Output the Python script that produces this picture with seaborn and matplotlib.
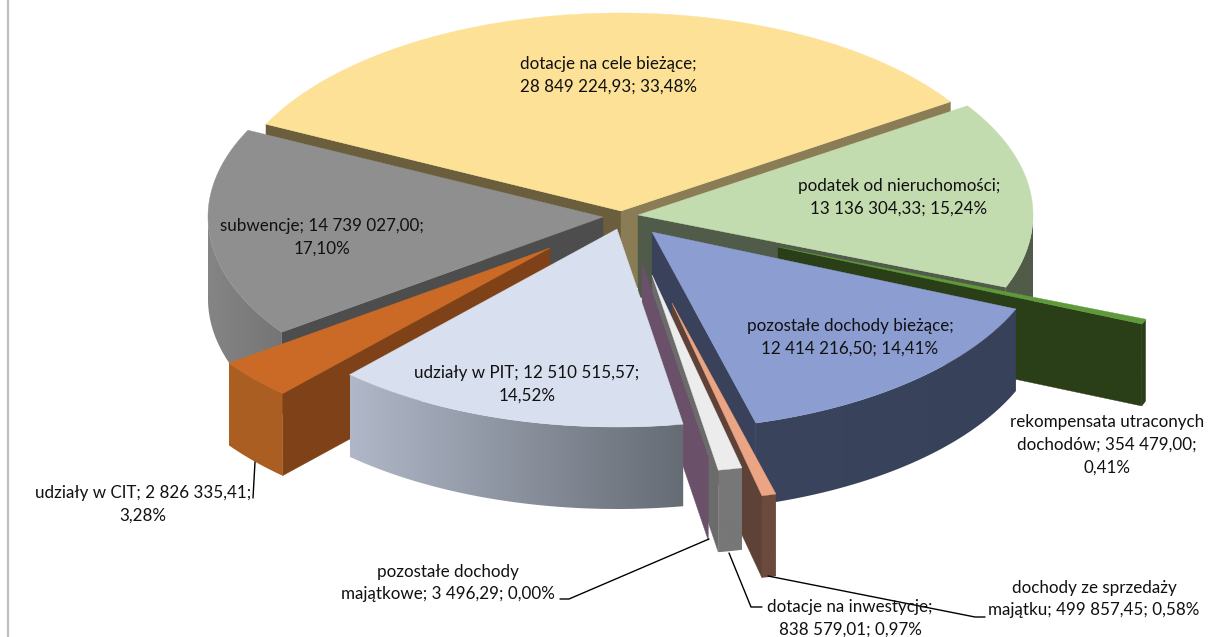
import numpy as np
import matplotlib
matplotlib.use('Agg')
import matplotlib.pyplot as plt
import matplotlib.colors as mcolors
from matplotlib.patches import Polygon
import seaborn as sns

# Data (clockwise, first slice starts behind the top left)
categories = ['dotacje na cele bieżące', 'podatek od nieruchomości', 'rekompensata utraconych dochodów',
              'pozostałe dochody bieżące', 'dochody ze sprzedaży majątku', 'dotacje na inwestycje',
              'pozostałe dochody majątkowe', 'udziały w PIT', 'udziały w CIT', 'subwencje']
values = [28849224.93, 13136304.33, 354479.00, 12414216.50, 499857.45,
          838579.01, 3496.29, 12510515.57, 2826335.41, 14739027.00]
labels = ['dotacje na cele bieżące;\n28 849 224,93; 33,48%',
          'podatek od nieruchomości;\n13 136 304,33; 15,24%',
          'rekompensata utraconych\ndochodów; 354 479,00;\n0,41%',
          'pozostałe dochody bieżące;\n12 414 216,50; 14,41%',
          'dochody ze sprzedaży\nmajątku; 499 857,45; 0,58%',
          'dotacje na inwestycje;\n838 579,01; 0,97%',
          'pozostałe dochody\nmajątkowe; 3 496,29; 0,00%',
          'udziały w PIT; 12 510 515,57;\n14,52%',
          'udziały w CIT; 2 826 335,41;\n3,28%',
          'subwencje; 14 739 027,00;\n17,10%']

# Colours per slice
top_colors = ['#FCE196', '#C3DCAF', '#5E9A3A', '#8C9ED1', '#EBA584',
              '#ECECEC', '#6A5068', '#D8DFEE', '#CB6A26', '#8F8F8F']
face_start = ['#6A5E3C', '#515B49', '#2A3E18', '#39425A', '#5F4237',
              '#6B6B6B', '#6A5068', '#5F6570', '#7F4218', '#4D4D4D']
face_end = ['#8A7C54', '#515B49', '#2A3E18', '#39425A', '#5F4237',
            '#6B6B6B', '#6A5068', '#5F6570', '#7F4218', '#4D4D4D']
wall_left = ['#7A7050', '#515B49', '#2A3E18', '#3A445C', '#6C4A3D',
             '#777777', '#6A5068', '#B0B7C8', '#AB5E22', '#858585']
wall_right = ['#7A7050', '#515B49', '#2A3E18', '#38415A', '#6C4A3D',
              '#777777', '#6A5068', '#666C74', '#AB5E22', '#757575']

# Layout of the exploded pie, in pixels
centres = [(621, 211), (638, 215), (778, 247), (652, 232), (672, 303),
           (652, 275), (642, 263), (617, 229), (550, 248), (603, 217)]
label_pos = [(608, 75), (899, 197), (1107, 445), (850, 337), (1094, 599),
             (850, 618), (448, 583), (527, 384), (143, 504), (322, 237)]
draw_order = [0, 9, 1, 2, 3, 8, 4, 5, 6, 7]
RX, RY, DEPTH = 395, 198, 82
FIRST_ANGLE = -64

sns.set_theme(style='white')
plt.rcParams['font.family'] = ['Lato', 'DejaVu Sans']

fig, ax = plt.subplots(figsize=(12.08, 6.37), dpi=100)
fig.subplots_adjust(0, 0, 1, 1)
ax.axis('off')


def direction(a):
    r = np.radians(a)
    return np.array([RX * np.sin(r), -RY * np.cos(r)])


def face_visible(a, mid):
    d = direction(a)
    n = np.array([-d[1], d[0]])
    if n[1] < 0:
        n = -n
    return direction(mid) @ n < 0


shares = np.array(values) / np.sum(values) * 360
ends = FIRST_ANGLE + np.cumsum(shares)
starts = ends - shares

z = 1
for i in draw_order:
    c = np.array(centres[i], dtype=float)
    a0, a1 = starts[i], ends[i]
    mid = (a0 + a1) / 2

    # Cut faces
    for a, col in ((a0, face_start[i]), (a1, face_end[i])):
        if face_visible(a, mid):
            p = c + direction(a)
            ax.fill([c[0], p[0], p[0], c[0]], [c[1], p[1], p[1] + DEPTH, c[1] + DEPTH],
                    color=col, lw=0.3, zorder=z)
            z += 1

    # Outer wall with a left to right gradient, only the part turned to the viewer
    w0, w1 = max(a0, 90), min(a1, 270)
    if w1 > w0:
        pts = np.array([c + direction(a) for a in np.linspace(w0, w1, 80)])
        outline = np.vstack([pts, pts[::-1] + [0, DEPTH]])
        cmap = mcolors.LinearSegmentedColormap.from_list('wall', [wall_left[i], wall_right[i]])
        im = ax.imshow(np.linspace(0, 1, 256)[None, :], cmap=cmap, aspect='auto', zorder=z,
                       extent=(outline[:, 0].min(), outline[:, 0].max(),
                               outline[:, 1].max(), outline[:, 1].min()))
        clip = Polygon(outline, closed=True, transform=ax.transData, fc='none', ec='none')
        ax.add_patch(clip)
        im.set_clip_path(clip)
        z += 1

    # Top
    arc = np.array([c + direction(a) for a in np.linspace(a0, a1, 120)])
    ax.fill(np.r_[c[0], arc[:, 0]], np.r_[c[1], arc[:, 1]], color=top_colors[i], lw=0.3, zorder=z)
    z += 1

ax.set_xlim(0, 1208)
ax.set_ylim(637, 0)

# Leader lines
ax.plot([255, 253], [462, 498], color='black', lw=1, zorder=z)
ax.plot([709, 569, 560], [539, 599, 599], color='black', lw=1, zorder=z)
ax.plot([729, 751, 762], [553, 607, 607], color='black', lw=1, zorder=z)
ax.plot([768, 975, 985], [576, 617, 617], color='black', lw=1, zorder=z)

# Data labels
for text, (x, y) in zip(labels, label_pos):
    ax.text(x, y, text, ha='center', va='center', fontsize=12.25, color='#111111',
            linespacing=1.5, zorder=z + 1)

# Chart frame, left side only in this crop
ax.plot([8, 8], [0, 637], color='#BFBFBF', lw=1.6, zorder=z)

plt.savefig('out.png', dpi=100)
plt.close()
